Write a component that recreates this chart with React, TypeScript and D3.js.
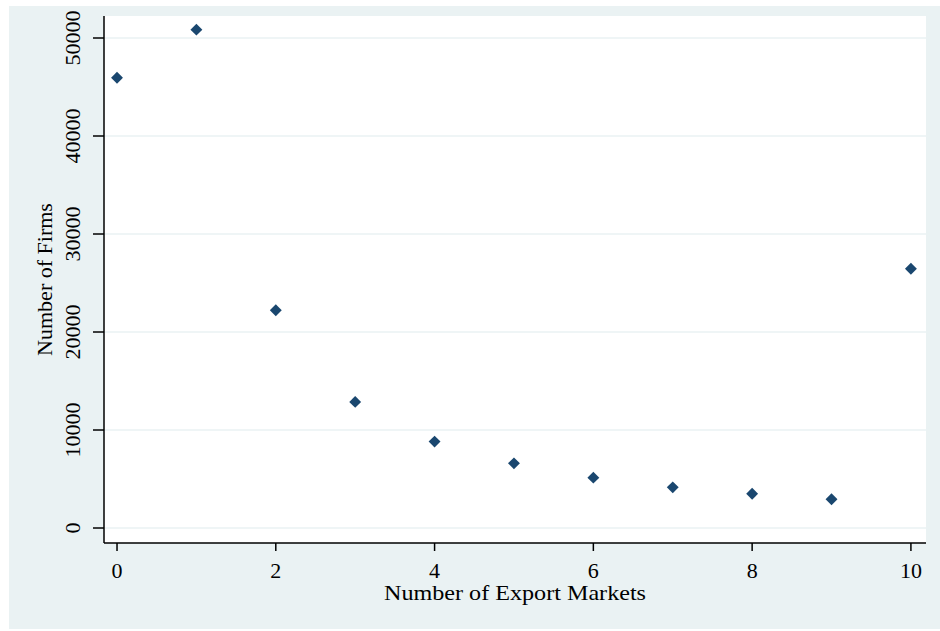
import React from "react";
import * as d3 from "d3";

const markets = [0, 1, 2, 3, 4, 5, 6, 7, 8, 9, 10];
const firms = [45950, 50850, 22220, 12870, 8820, 6600, 5140, 4150, 3500, 2930, 26460];
const xTicks = [0, 2, 4, 6, 8, 10];
const yTicks = [0, 10000, 20000, 30000, 40000, 50000];
const xTitle = "Number of Export Markets";
const yTitle = "Number of Firms";

const W = 940;
const H = 631;
const plot = { left: 104, right: 926, top: 16, bottom: 543 };
const BG = "#eaf2f3";
const NAVY = "#1a476f";
const FONT = "'Liberation Serif', 'DejaVu Serif', serif";

export default function App() {
  const x = d3.scaleLinear().domain([-0.164, 10.19]).range([plot.left, plot.right]);
  const y = d3.scaleLinear().domain([-1530, 52245]).range([plot.bottom, plot.top]);
  const sym = d3.symbol().type((d3 as any).symbolDiamond2 ?? d3.symbolDiamond).size(90);
  const path = sym() as string;

  return (
    <svg width={W} height={H} style={{ position: "absolute", left: 0, top: 0 }}>
      <rect x={0} y={0} width={W} height={H} fill="#ffffff" />
      <rect x={9} y={6} width={W - 9} height={623} fill={BG} />
      <rect
        x={plot.left}
        y={plot.top}
        width={plot.right - plot.left}
        height={plot.bottom - plot.top}
        fill="#ffffff"
      />
      {yTicks.map((t) => (
        <line
          key={"g" + t}
          x1={plot.left}
          x2={plot.right}
          y1={y(t)}
          y2={y(t)}
          stroke={BG}
          strokeWidth={1.6}
        />
      ))}
      <line x1={plot.left} x2={plot.left} y1={plot.top} y2={plot.bottom} stroke="#000" strokeWidth={1.5} />
      <line x1={plot.left} x2={plot.right} y1={plot.bottom} y2={plot.bottom} stroke="#000" strokeWidth={1.5} />
      {yTicks.map((t) => (
        <g key={"y" + t}>
          <line x1={plot.left - 11} x2={plot.left} y1={y(t)} y2={y(t)} stroke="#000" strokeWidth={1.5} />
          <text
            transform={`translate(80,${y(t)}) rotate(-90)`}
            textAnchor="middle"
            fontFamily={FONT}
            fontSize={22}
            fill="#000"
          >
            {t}
          </text>
        </g>
      ))}
      {xTicks.map((t) => (
        <g key={"x" + t}>
          <line x1={x(t)} x2={x(t)} y1={plot.bottom} y2={plot.bottom + 8} stroke="#000" strokeWidth={1.5} />
          <text x={x(t)} y={578} textAnchor="middle" fontFamily={FONT} fontSize={22} fill="#000">
            {t}
          </text>
        </g>
      ))}
      <text
        x={(plot.left + plot.right) / 2}
        y={600}
        textAnchor="middle"
        fontFamily={FONT}
        fontSize={21}
        textLength={262}
        lengthAdjust="spacingAndGlyphs"
        fill="#000"
      >
        {xTitle}
      </text>
      <text
        transform={`translate(52,${(plot.top + plot.bottom) / 2}) rotate(-90)`}
        textAnchor="middle"
        fontFamily={FONT}
        fontSize={22}
        fill="#000"
      >
        {yTitle}
      </text>
      {markets.map((m, i) => (
        <path key={"p" + m} d={path} transform={`translate(${x(m)},${y(firms[i])})`} fill={NAVY} />
      ))}
    </svg>
  );
}
